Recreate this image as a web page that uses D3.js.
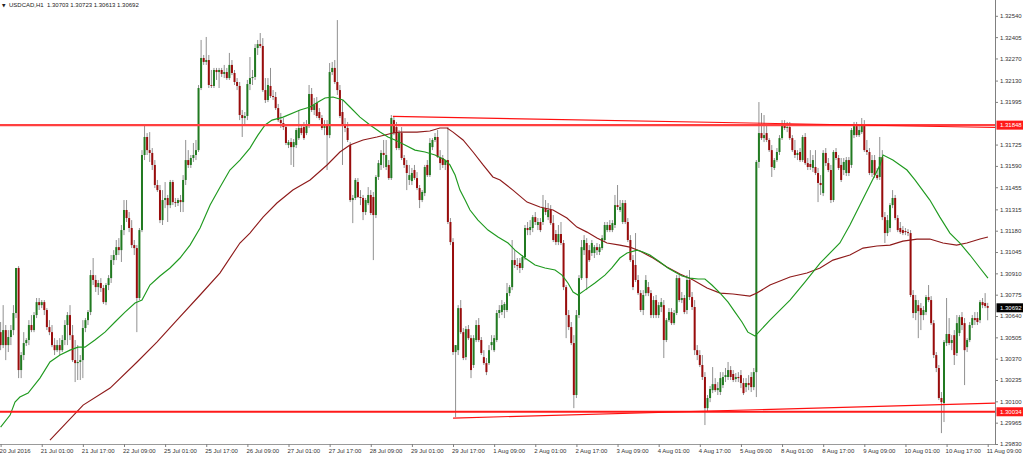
<!DOCTYPE html>
<html><head><meta charset="utf-8">
<script src="https://cdn.jsdelivr.net/npm/d3@7/dist/d3.min.js"></script>
<style>html,body{margin:0;padding:0;background:#fff;overflow:hidden}</style>
</head><body><svg id="c" width="1024" height="455"></svg>
<script>
const O=[1.30538,1.30456,1.30551,1.30456,1.30507,1.30551,1.30659,1.30944,1.30298,1.30393,
1.30469,1.30488,1.30583,1.30551,1.30646,1.30728,1.30709,1.30728,1.30678,1.30570,
1.30538,1.30456,1.30424,1.30456,1.30424,1.30488,1.30583,1.30646,1.30519,1.30361,
1.30342,1.30349,1.30361,1.30564,1.30614,1.30665,1.30899,1.30868,1.30823,1.30849,
1.30817,1.30728,1.30836,1.30880,1.30994,1.31026,1.31076,1.31057,1.31184,1.31311,
1.31260,1.31197,1.31089,1.31070,1.30754,1.31184,1.31659,1.31773,1.31690,1.31672,
1.31596,1.31469,1.31437,1.31247,1.31374,1.31387,1.31342,1.31488,1.31361,1.31355,
1.31374,1.31361,1.31501,1.31627,1.31596,1.31640,1.31659,1.31690,1.32083,1.32273,
1.32248,1.32260,1.32102,1.32096,1.32197,1.32184,1.32197,1.32172,1.32184,1.32146,
1.32229,1.32178,1.32121,1.32096,1.31912,1.31893,1.31906,1.32108,1.32146,1.32153,
1.32336,1.32361,1.32349,1.32070,1.32007,1.32096,1.32032,1.32026,1.31956,1.31880,
1.31861,1.31836,1.31722,1.31741,1.31709,1.31722,1.31766,1.31830,1.31836,1.31798,
1.31849,1.32045,1.31944,1.31988,1.31931,1.31893,1.31830,1.31849,1.31785,1.32184,
1.32210,1.32121,1.32070,1.31931,1.31849,1.31830,1.31722,1.31374,1.31387,1.31488,
1.31393,1.31387,1.31298,1.31355,1.31406,1.31393,1.31279,1.31520,1.31596,1.31672,
1.31583,1.31596,1.31513,1.31880,1.31836,1.31703,1.31798,1.31640,1.31596,1.31501,
1.31494,1.31564,1.31513,1.31450,1.31374,1.31418,1.31596,1.31532,1.31709,1.31754,
1.31773,1.31646,1.31640,1.31596,1.31627,1.31235,1.31108,1.30412,1.30424,1.30690,
1.30538,1.30380,1.30557,1.30500,1.30330,1.30488,1.30583,1.30488,1.30380,1.30342,
1.30342,1.30456,1.30424,1.30488,1.30659,1.30665,1.30678,1.30678,1.30785,1.30823,
1.30994,1.30963,1.30975,1.30944,1.31013,1.31197,1.31184,1.31197,1.31266,1.31216,
1.31235,1.31235,1.31323,1.31266,1.31311,1.31228,1.31159,1.31108,1.31159,1.31102,
1.30823,1.30646,1.30570,1.30469,1.30140,1.30646,1.30880,1.31057,1.31102,1.31057,
1.31039,1.31039,1.31076,1.31045,1.31070,1.31121,1.31184,1.31216,1.31184,1.31216,
1.31342,1.31311,1.31235,1.31355,1.31235,1.31121,1.30994,1.30963,1.30868,1.30785,
1.30678,1.30785,1.30823,1.30785,1.30646,1.30741,1.30646,1.30697,1.30709,1.30488,
1.30614,1.30665,1.30595,1.30659,1.30880,1.30741,1.30754,1.30678,1.30868,1.30760,
1.30697,1.30424,1.30393,1.30330,1.30254,1.30057,1.30121,1.30171,1.30209,1.30171,
1.30159,1.30203,1.30254,1.30254,1.30298,1.30273,1.30241,1.30254,1.30266,1.30216,
1.30190,1.30216,1.30254,1.30190,1.30285,1.31615,1.31798,1.31766,1.31798,1.31754,
1.31690,1.31577,1.31627,1.31678,1.31766,1.31855,1.31830,1.31836,1.31766,1.31690,
1.31659,1.31678,1.31627,1.31773,1.31608,1.31602,1.31577,1.31583,1.31545,1.31482,
1.31418,1.31672,1.31608,1.31564,1.31374,1.31678,1.31640,1.31596,1.31564,1.31545,
1.31627,1.31596,1.31785,1.31842,1.31785,1.31804,1.31849,1.31690,1.31678,1.31545,
1.31627,1.31532,1.31520,1.31646,1.31266,1.31165,1.31197,1.31342,1.31387,1.31260,
1.31197,1.31184,1.31178,1.31171,1.31165,1.30773,1.30659,1.30709,1.30690,1.30646,
1.30665,1.30760,1.30741,1.30595,1.30393,1.30311,1.30121,1.30089,1.30469,1.30526,
1.30469,1.30519,1.30406,1.30532,1.30633,1.30595,1.30443,1.30488,1.30583,1.30627,
1.30627,1.30614,1.30728,1.30722,1.30703];
const H=[1.30602,1.30709,1.30583,1.30551,1.30583,1.30709,1.30836,1.30956,1.30412,1.30538,
1.30500,1.30614,1.30646,1.30665,1.30754,1.30754,1.30741,1.30741,1.30690,1.30614,
1.30583,1.30500,1.30488,1.30500,1.30519,1.30614,1.30665,1.30709,1.30583,1.30488,
1.30456,1.30393,1.30614,1.30627,1.30678,1.30931,1.31007,1.30899,1.30868,1.30880,
1.30836,1.30849,1.30899,1.31026,1.31057,1.31121,1.31133,1.31216,1.31374,1.31374,
1.31298,1.31247,1.31121,1.31089,1.31197,1.31690,1.31849,1.31798,1.31804,1.31703,
1.31627,1.31501,1.31469,1.31437,1.31488,1.31406,1.31501,1.31501,1.31387,1.31387,
1.31406,1.31532,1.31754,1.31690,1.31659,1.31735,1.31754,1.32102,1.32387,1.32292,
1.32406,1.32292,1.32197,1.32210,1.32210,1.32210,1.32210,1.32229,1.32210,1.32305,
1.32260,1.32197,1.32146,1.32121,1.31944,1.31931,1.32134,1.32279,1.32197,1.32361,
1.32387,1.32431,1.32399,1.32146,1.32146,1.32210,1.32070,1.32058,1.31982,1.31925,
1.31893,1.31855,1.31754,1.31766,1.31760,1.31830,1.31944,1.31849,1.31868,1.31880,
1.32102,1.32083,1.32020,1.32026,1.31956,1.31912,1.31880,1.31880,1.32241,1.32248,
1.32260,1.32513,1.32102,1.32007,1.31893,1.31868,1.31741,1.31406,1.31513,1.31513,
1.31437,1.31406,1.31387,1.31456,1.31437,1.31425,1.31532,1.31627,1.31690,1.31754,
1.31754,1.31627,1.31912,1.31906,1.31868,1.31817,1.31836,1.31659,1.31627,1.31596,
1.31577,1.31596,1.31551,1.31469,1.31437,1.31596,1.31627,1.31766,1.31766,1.31798,
1.31817,1.31690,1.31659,1.31627,1.31836,1.31260,1.31133,1.30456,1.30709,1.30741,
1.30564,1.30576,1.30583,1.30519,1.30519,1.30614,1.30627,1.30507,1.30424,1.30374,
1.30456,1.30519,1.30519,1.30678,1.30709,1.30741,1.30728,1.30849,1.30836,1.31121,
1.31057,1.31007,1.31007,1.31026,1.31216,1.31235,1.31247,1.31279,1.31298,1.31260,
1.31260,1.31406,1.31374,1.31355,1.31342,1.31279,1.31184,1.31216,1.31235,1.31121,
1.30836,1.30678,1.30602,1.30519,1.30678,1.30899,1.31121,1.31152,1.31133,1.31089,
1.31121,1.31089,1.31102,1.31095,1.31152,1.31235,1.31235,1.31247,1.31247,1.31406,
1.31469,1.31374,1.31374,1.31374,1.31260,1.31152,1.31026,1.31165,1.30899,1.30804,
1.30804,1.30899,1.30855,1.30804,1.30766,1.30773,1.30728,1.30754,1.30741,1.30627,
1.30690,1.30690,1.30678,1.30899,1.30899,1.30792,1.30773,1.30899,1.30931,1.30792,
1.30741,1.30456,1.30424,1.30393,1.30285,1.30140,1.30197,1.30317,1.30247,1.30222,
1.30285,1.30285,1.30311,1.30349,1.30323,1.30298,1.30279,1.30285,1.30298,1.30247,
1.30247,1.30266,1.30285,1.30311,1.31627,1.31994,1.31925,1.31912,1.31849,1.31766,
1.31722,1.31640,1.31703,1.31785,1.31880,1.31880,1.31868,1.31868,1.31785,1.31754,
1.31690,1.31703,1.31785,1.31798,1.31640,1.31690,1.31659,1.31690,1.31577,1.31532,
1.31690,1.31703,1.31640,1.31596,1.31690,1.31703,1.31659,1.31640,1.31640,1.31646,
1.31646,1.31830,1.31868,1.31868,1.31849,1.31893,1.31880,1.31754,1.31703,1.31659,
1.31659,1.31577,1.31773,1.31690,1.31298,1.31279,1.31355,1.31437,1.31406,1.31279,
1.31235,1.31209,1.31197,1.31190,1.31184,1.30804,1.30773,1.30741,1.30722,1.30703,
1.30773,1.30836,1.30766,1.30614,1.30412,1.30330,1.30159,1.30488,1.30754,1.30627,
1.30519,1.30551,1.30646,1.30646,1.30665,1.30627,1.30500,1.30602,1.30646,1.30665,
1.30665,1.30741,1.30754,1.30785,1.30723];
const L=[1.30424,1.30437,1.30361,1.30412,1.30456,1.30519,1.30627,1.30247,1.30247,1.30361,
1.30450,1.30456,1.30538,1.30538,1.30627,1.30678,1.30690,1.30646,1.30551,1.30519,
1.30443,1.30393,1.30412,1.30393,1.30412,1.30456,1.30456,1.30488,1.30349,1.30222,
1.30235,1.30235,1.30247,1.30538,1.30583,1.30646,1.30836,1.30792,1.30773,1.30792,
1.30716,1.30709,1.30804,1.30849,1.30963,1.30994,1.31026,1.30982,1.31152,1.31235,
1.31171,1.31070,1.31026,1.30538,1.30741,1.31171,1.31627,1.31659,1.31615,1.31564,
1.31450,1.31425,1.31228,1.31216,1.31323,1.31235,1.31323,1.31342,1.31330,1.31336,
1.31298,1.31298,1.31469,1.31577,1.31577,1.31615,1.31627,1.31678,1.32070,1.32229,
1.32229,1.32083,1.32083,1.32083,1.32134,1.32083,1.32153,1.32146,1.32134,1.32134,
1.32165,1.32102,1.32070,1.31880,1.31773,1.31849,1.31880,1.32070,1.32102,1.32134,
1.32292,1.32336,1.32058,1.31988,1.31994,1.32020,1.32007,1.31944,1.31868,1.31830,
1.31817,1.31722,1.31703,1.31596,1.31583,1.31703,1.31754,1.31785,1.31754,1.31785,
1.31830,1.31931,1.31912,1.31893,1.31880,1.31817,1.31785,1.31564,1.31766,1.32165,
1.32108,1.32039,1.31893,1.31596,1.31804,1.31741,1.31361,1.31228,1.31374,1.31387,
1.31342,1.31247,1.31279,1.31342,1.31279,1.30994,1.31260,1.31501,1.31564,1.31577,
1.31564,1.31501,1.31501,1.31785,1.31690,1.31690,1.31627,1.31577,1.31437,1.31469,
1.31469,1.31501,1.31437,1.31323,1.31361,1.31399,1.31520,1.31520,1.31690,1.31741,
1.31640,1.31564,1.31577,1.31564,1.31222,1.31089,1.30393,1.30000,1.30393,1.30526,
1.30361,1.30361,1.30488,1.30247,1.30311,1.30475,1.30475,1.30393,1.30330,1.30266,
1.30330,1.30424,1.30412,1.30475,1.30627,1.30646,1.30627,1.30665,1.30766,1.30804,
1.30944,1.30931,1.30912,1.30931,1.30994,1.31152,1.31152,1.31171,1.31216,1.31184,
1.31171,1.31216,1.31279,1.31247,1.31216,1.31108,1.31089,1.31089,1.31089,1.30804,
1.30500,1.30551,1.30456,1.30057,1.30121,1.30627,1.30868,1.31026,1.30804,1.30982,
1.31020,1.31007,1.31026,1.31026,1.31057,1.31108,1.31171,1.31171,1.31171,1.31197,
1.31311,1.31298,1.31222,1.31222,1.31108,1.30982,1.30804,1.30855,1.30773,1.30665,
1.30646,1.30766,1.30766,1.30627,1.30627,1.30627,1.30627,1.30665,1.30374,1.30475,
1.30602,1.30583,1.30583,1.30646,1.30728,1.30722,1.30652,1.30652,1.30741,1.30678,
1.30393,1.30361,1.30317,1.30235,1.29950,1.30032,1.30095,1.30152,1.30159,1.30140,
1.30140,1.30184,1.30222,1.30235,1.30235,1.30222,1.30222,1.30222,1.30184,1.30140,
1.30159,1.30171,1.30159,1.30171,1.30127,1.31577,1.31754,1.31741,1.31741,1.31678,
1.31520,1.31564,1.31615,1.31659,1.31754,1.31817,1.31804,1.31754,1.31678,1.31640,
1.31627,1.31615,1.31615,1.31596,1.31564,1.31564,1.31551,1.31532,1.31361,1.31406,
1.31399,1.31589,1.31551,1.31355,1.31361,1.31627,1.31564,1.31488,1.31532,1.31526,
1.31526,1.31577,1.31766,1.31773,1.31773,1.31792,1.31678,1.31659,1.31532,1.31520,
1.31513,1.31501,1.31501,1.31247,1.31102,1.31146,1.31171,1.31323,1.31247,1.31171,
1.31159,1.31152,1.31152,1.31146,1.30760,1.30627,1.30614,1.30500,1.30551,1.30614,
1.30646,1.30728,1.30583,1.30374,1.30285,1.30108,1.29899,1.29969,1.30450,1.30456,
1.30424,1.30330,1.30387,1.30513,1.30551,1.30203,1.30412,1.30475,1.30564,1.30583,
1.30583,1.30595,1.30690,1.30690,1.30613];
const C=[1.30456,1.30551,1.30456,1.30507,1.30551,1.30659,1.30944,1.30298,1.30393,1.30469,
1.30488,1.30583,1.30551,1.30646,1.30728,1.30709,1.30728,1.30678,1.30570,1.30538,
1.30456,1.30424,1.30456,1.30424,1.30488,1.30583,1.30646,1.30519,1.30361,1.30342,
1.30349,1.30361,1.30564,1.30614,1.30665,1.30899,1.30868,1.30823,1.30849,1.30817,
1.30728,1.30836,1.30880,1.30994,1.31026,1.31076,1.31057,1.31184,1.31311,1.31260,
1.31197,1.31089,1.31070,1.30754,1.31184,1.31659,1.31773,1.31690,1.31672,1.31596,
1.31469,1.31437,1.31247,1.31374,1.31387,1.31342,1.31488,1.31361,1.31355,1.31374,
1.31361,1.31501,1.31627,1.31596,1.31640,1.31659,1.31690,1.32083,1.32273,1.32248,
1.32260,1.32102,1.32096,1.32197,1.32184,1.32197,1.32172,1.32184,1.32146,1.32229,
1.32178,1.32121,1.32096,1.31912,1.31893,1.31906,1.32108,1.32146,1.32153,1.32336,
1.32361,1.32349,1.32070,1.32007,1.32102,1.32032,1.32026,1.31956,1.31880,1.31861,
1.31836,1.31735,1.31741,1.31709,1.31741,1.31817,1.31830,1.31798,1.31766,1.31849,
1.32045,1.31944,1.31975,1.31906,1.31893,1.31830,1.31849,1.31785,1.32184,1.32210,
1.32121,1.32070,1.31906,1.31849,1.31830,1.31754,1.31374,1.31387,1.31501,1.31393,
1.31387,1.31298,1.31374,1.31406,1.31292,1.31279,1.31520,1.31608,1.31672,1.31659,
1.31659,1.31513,1.31893,1.31798,1.31703,1.31798,1.31640,1.31596,1.31545,1.31532,
1.31545,1.31513,1.31450,1.31374,1.31425,1.31583,1.31532,1.31735,1.31754,1.31773,
1.31646,1.31608,1.31596,1.31627,1.31235,1.31108,1.30412,1.30456,1.30690,1.30538,
1.30374,1.30557,1.30500,1.30298,1.30500,1.30583,1.30488,1.30406,1.30342,1.30285,
1.30424,1.30475,1.30500,1.30659,1.30678,1.30709,1.30716,1.30785,1.30823,1.30994,
1.30963,1.30956,1.30944,1.31013,1.31197,1.31184,1.31203,1.31266,1.31235,1.31235,
1.31184,1.31323,1.31298,1.31311,1.31228,1.31121,1.31108,1.31159,1.31102,1.30823,
1.30646,1.30570,1.30469,1.30140,1.30646,1.30880,1.31076,1.31121,1.30880,1.30994,
1.31102,1.31076,1.31057,1.31076,1.31133,1.31216,1.31216,1.31184,1.31228,1.31342,
1.31330,1.31330,1.31355,1.31235,1.31121,1.30994,1.30823,1.30868,1.30785,1.30678,
1.30773,1.30868,1.30785,1.30646,1.30741,1.30646,1.30709,1.30728,1.30488,1.30614,
1.30665,1.30595,1.30659,1.30880,1.30741,1.30754,1.30665,1.30868,1.30760,1.30697,
1.30424,1.30393,1.30330,1.30254,1.30057,1.30121,1.30178,1.30209,1.30171,1.30184,
1.30247,1.30254,1.30266,1.30298,1.30254,1.30235,1.30254,1.30247,1.30216,1.30152,
1.30216,1.30203,1.30190,1.30285,1.31615,1.31798,1.31766,1.31785,1.31754,1.31690,
1.31583,1.31627,1.31678,1.31766,1.31855,1.31830,1.31836,1.31766,1.31690,1.31659,
1.31672,1.31627,1.31773,1.31608,1.31583,1.31583,1.31627,1.31545,1.31482,1.31469,
1.31672,1.31608,1.31564,1.31374,1.31678,1.31640,1.31577,1.31501,1.31615,1.31627,
1.31545,1.31817,1.31842,1.31785,1.31817,1.31849,1.31690,1.31678,1.31545,1.31627,
1.31532,1.31513,1.31646,1.31266,1.31165,1.31247,1.31342,1.31387,1.31260,1.31184,
1.31171,1.31165,1.31171,1.31165,1.30773,1.30659,1.30741,1.30671,1.30646,1.30678,
1.30760,1.30741,1.30595,1.30393,1.30311,1.30121,1.30095,1.30475,1.30526,1.30469,
1.30488,1.30393,1.30595,1.30633,1.30583,1.30424,1.30488,1.30583,1.30627,1.30614,
1.30602,1.30728,1.30709,1.30703,1.30692];

// moving averages (bar position, price)
const maFastIdx=[0,3.7,5.6,7.5,10.7,15.3,19.2,23.1,27,30.1,32.8,36.7,40.6,44.5,48.4,52.3,55,58.1,62,65.9,69.8,73.7,77.6,81.5,85.4,89.2,93.1,97,100.1,102.9,105.6,109.9,116.5,120.4,123.5,126.2,129.3,133.2,135.9,139.8,143.7,147.6,150.7,153.4,157.3,161.2,165.1,169,172.9,174.8,176.8,178.7,180.7,182.6,185.7,189.6,193.5,197.4,200.1,204,207.9,211.8,215.7,218.4,220.7,222.7,224.6,227.3,231.2,235.1,237.8,240.9,243.7,247.6,249.9,252.6,256.5,259.6,262.3,265.1,268.2,271.3,274,276.7,279.9,283,285.7,288.4,290.7,293.5,299.3,307.1,312.9,318.8,326.5,330.4,334.3,338.2,342.1,343.3,347.1,352.6,355.7,361.5,365.4,369.3,373.2,377.1,381,384.1];
const maFastVal=[1.29937,1.30013,1.30095,1.30127,1.30152,1.30247,1.30349,1.30393,1.30424,1.30443,1.30443,1.30488,1.30538,1.30602,1.30665,1.30722,1.30741,1.30836,1.30893,1.30944,1.31007,1.31089,1.31197,1.31342,1.31456,1.31564,1.31627,1.31703,1.31785,1.31849,1.31880,1.31899,1.31944,1.31963,1.31994,1.32020,1.32026,1.32007,1.31963,1.31899,1.31849,1.31804,1.31773,1.31754,1.31722,1.31690,1.31678,1.31659,1.31627,1.31596,1.31532,1.31437,1.31374,1.31311,1.31247,1.31184,1.31140,1.31102,1.31057,1.31007,1.30963,1.30944,1.30931,1.30899,1.30849,1.30792,1.30773,1.30804,1.30849,1.30899,1.30944,1.31007,1.31039,1.31057,1.31045,1.31026,1.30982,1.30944,1.30918,1.30893,1.30880,1.30874,1.30874,1.30836,1.30785,1.30728,1.30665,1.30602,1.30538,1.30513,1.30614,1.30741,1.30855,1.30975,1.31102,1.31216,1.31342,1.31469,1.31596,1.31659,1.31627,1.31564,1.31501,1.31374,1.31266,1.31165,1.31102,1.31026,1.30944,1.30880];
const maSlowIdx=[19.2,32.1,42.6,53.1,60.8,68.6,77.6,85.3,93.1,97,102.1,107.5,113.7,120.4,127,132,135.9,141,146.4,152.6,155.4,162,167,170.9,173.7,176,179.9,183.8,187.7,191.5,194.3,199.3,204.8,209.8,214.9,220.3,224.2,228.1,232,235.9,240.9,244.8,248.7,253.8,259.2,264.3,269.4,274.8,279.9,284.9,291.5,294.2,299.3,307.1,313.7,318.8,323.8,330.4,335.5,340.9,346,351,356.5,361.5,366.6,371.9,375.9,381,384.1];
const maSlowVal=[1.29855,1.30076,1.30184,1.30349,1.30475,1.30614,1.30773,1.30912,1.31102,1.31165,1.31266,1.31355,1.31437,1.31501,1.31596,1.31678,1.31722,1.31754,1.31773,1.31798,1.31804,1.31804,1.31811,1.31830,1.31830,1.31804,1.31754,1.31678,1.31596,1.31520,1.31501,1.31437,1.31361,1.31330,1.31311,1.31260,1.31203,1.31171,1.31133,1.31102,1.31089,1.31076,1.31051,1.31007,1.30950,1.30906,1.30868,1.30817,1.30785,1.30779,1.30766,1.30785,1.30836,1.30887,1.30912,1.30944,1.30994,1.31026,1.31070,1.31083,1.31089,1.31114,1.31127,1.31127,1.31102,1.31089,1.31102,1.31127,1.31140];

const levels=[1.31848,1.30034];
const trendUp=[[152.6,1.31903],[387,1.31833]];
const trendDn=[[176,1.29994],[387,1.30089]];
const lastPrice=1.30692;

const timeIdx=[0,16,32,48,64,80,96,112,128,144,160,176,192,208,224,240,256,272,288,304,320,336,352,368,384];
const timeLabels=["20 Jul 2016","21 Jul 01:00","21 Jul 17:00","22 Jul 09:00","25 Jul 01:00","25 Jul 17:00","26 Jul 09:00","27 Jul 01:00","27 Jul 17:00","28 Jul 09:00","29 Jul 01:00","29 Jul 17:00","1 Aug 09:00","2 Aug 01:00","2 Aug 17:00","3 Aug 09:00","4 Aug 01:00","4 Aug 17:00","5 Aug 09:00","8 Aug 01:00","8 Aug 17:00","9 Aug 09:00","10 Aug 01:00","10 Aug 17:00","11 Aug 09:00"];
const priceTicks=[1.32540,1.32405,1.32270,1.32130,1.31995,1.31725,1.31590,1.31455,1.31315,1.31180,1.31045,1.30910,1.30775,1.30640,1.30505,1.30370,1.30235,1.30100,1.29965,1.29830];
const title="USDCAD,H1  1.30703 1.30723 1.30613 1.30692";

const svg=d3.select("#c");
const W=995, Hh=444;
const x=d3.scaleLinear().domain([0,384]).range([0.6,987.7]);
const y=d3.scaleLinear().domain([1.2983,1.3264]).range([Hh,0]);
const FONT="'Liberation Sans', Arial, sans-serif";

svg.append("defs").append("clipPath").attr("id","plot").append("rect").attr("x",0).attr("y",0).attr("width",W).attr("height",Hh);
const g=svg.append("g").attr("clip-path","url(#plot)");

const bars=d3.range(O.length).map(i=>({i,o:O[i],h:H[i],l:L[i],c:C[i]}));
g.append("g").selectAll("line").data(bars).join("line")
 .attr("x1",d=>x(d.i)).attr("x2",d=>x(d.i))
 .attr("y1",d=>y(d.h)).attr("y2",d=>y(d.l))
 .attr("stroke","#858585").attr("stroke-width",0.9);
g.append("g").selectAll("rect").data(bars).join("rect")
 .attr("x",d=>x(d.i)-1).attr("width",2)
 .attr("y",d=>y(Math.max(d.o,d.c)))
 .attr("height",d=>Math.max(0.8,Math.abs(y(d.o)-y(d.c))))
 .attr("fill",d=>d.c>=d.o?"#217a21":"#990c0c");

const line=d3.line().x(d=>x(d[0])).y(d=>y(d[1]));
g.append("path").datum(d3.zip(maSlowIdx,maSlowVal)).attr("d",line)
 .attr("fill","none").attr("stroke","#8e1a1a").attr("stroke-width",1.15);
g.append("path").datum(d3.zip(maFastIdx,maFastVal)).attr("d",line)
 .attr("fill","none").attr("stroke","#1f9a1f").attr("stroke-width",1.15);

// horizontal levels and trendlines
g.append("line").attr("x1",0).attr("x2",W).attr("y1",y(levels[0])).attr("y2",y(levels[0]))
 .attr("stroke","#ff4040").attr("stroke-width",2.4);
g.append("line").attr("x1",0).attr("x2",W).attr("y1",y(levels[1])).attr("y2",y(levels[1]))
 .attr("stroke","#ff1a1a").attr("stroke-width",2);
[trendUp,trendDn].forEach(t=>{
  g.append("path").datum(t).attr("d",line).attr("fill","none").attr("stroke","#ff1010").attr("stroke-width",1.2);
});

// axes
const axR=d3.axisRight(y).tickValues(priceTicks).tickFormat(d3.format(".5f")).tickSize(3).tickSizeOuter(0).tickPadding(2);
const gr=svg.append("g").attr("transform",`translate(${W},0)`).call(axR);
gr.select(".domain").attr("stroke","#808080").attr("d",`M0.5,0V${Hh}`);
gr.selectAll(".tick line").attr("stroke","#808080");
gr.selectAll("text").attr("font-family",FONT).attr("font-size",6).attr("fill","#333");

const axB=d3.axisBottom(x).tickValues(timeIdx).tickFormat((d,i)=>timeLabels[i]).tickSize(3).tickSizeOuter(0).tickPadding(1.5);
const gb=svg.append("g").attr("transform",`translate(0,${Hh})`).call(axB);
gb.select(".domain").attr("stroke","#9a9a9a").attr("d",`M0,0.5H${W}`);
gb.selectAll(".tick line").attr("stroke","#808080");
gb.selectAll("text").attr("font-family",FONT).attr("font-size",6).attr("fill","#333").attr("text-anchor","start").attr("x",-1.5);

// price label boxes
function tag(v,col){
  const yy=y(v);
  svg.append("rect").attr("x",996.5).attr("y",yy-4.5).attr("width",26.5).attr("height",9).attr("fill",col);
  svg.append("text").attr("x",1000).attr("y",yy+2.2).attr("font-family",FONT).attr("font-size",6).attr("fill","#fff").text(d3.format(".5f")(v));
}
tag(levels[0],"#ff1a1a");
tag(levels[1],"#ff1a1a");
tag(lastPrice,"#000");

// title
svg.append("text").attr("x",2).attr("y",6.6).attr("font-family","'DejaVu Sans',sans-serif").attr("font-size",4.5).attr("fill","#222").text("▼");
svg.append("text").attr("x",9).attr("y",7).attr("font-family",FONT).attr("font-size",6).attr("fill","#222").style("white-space","pre").text(title);
</script></body></html>
